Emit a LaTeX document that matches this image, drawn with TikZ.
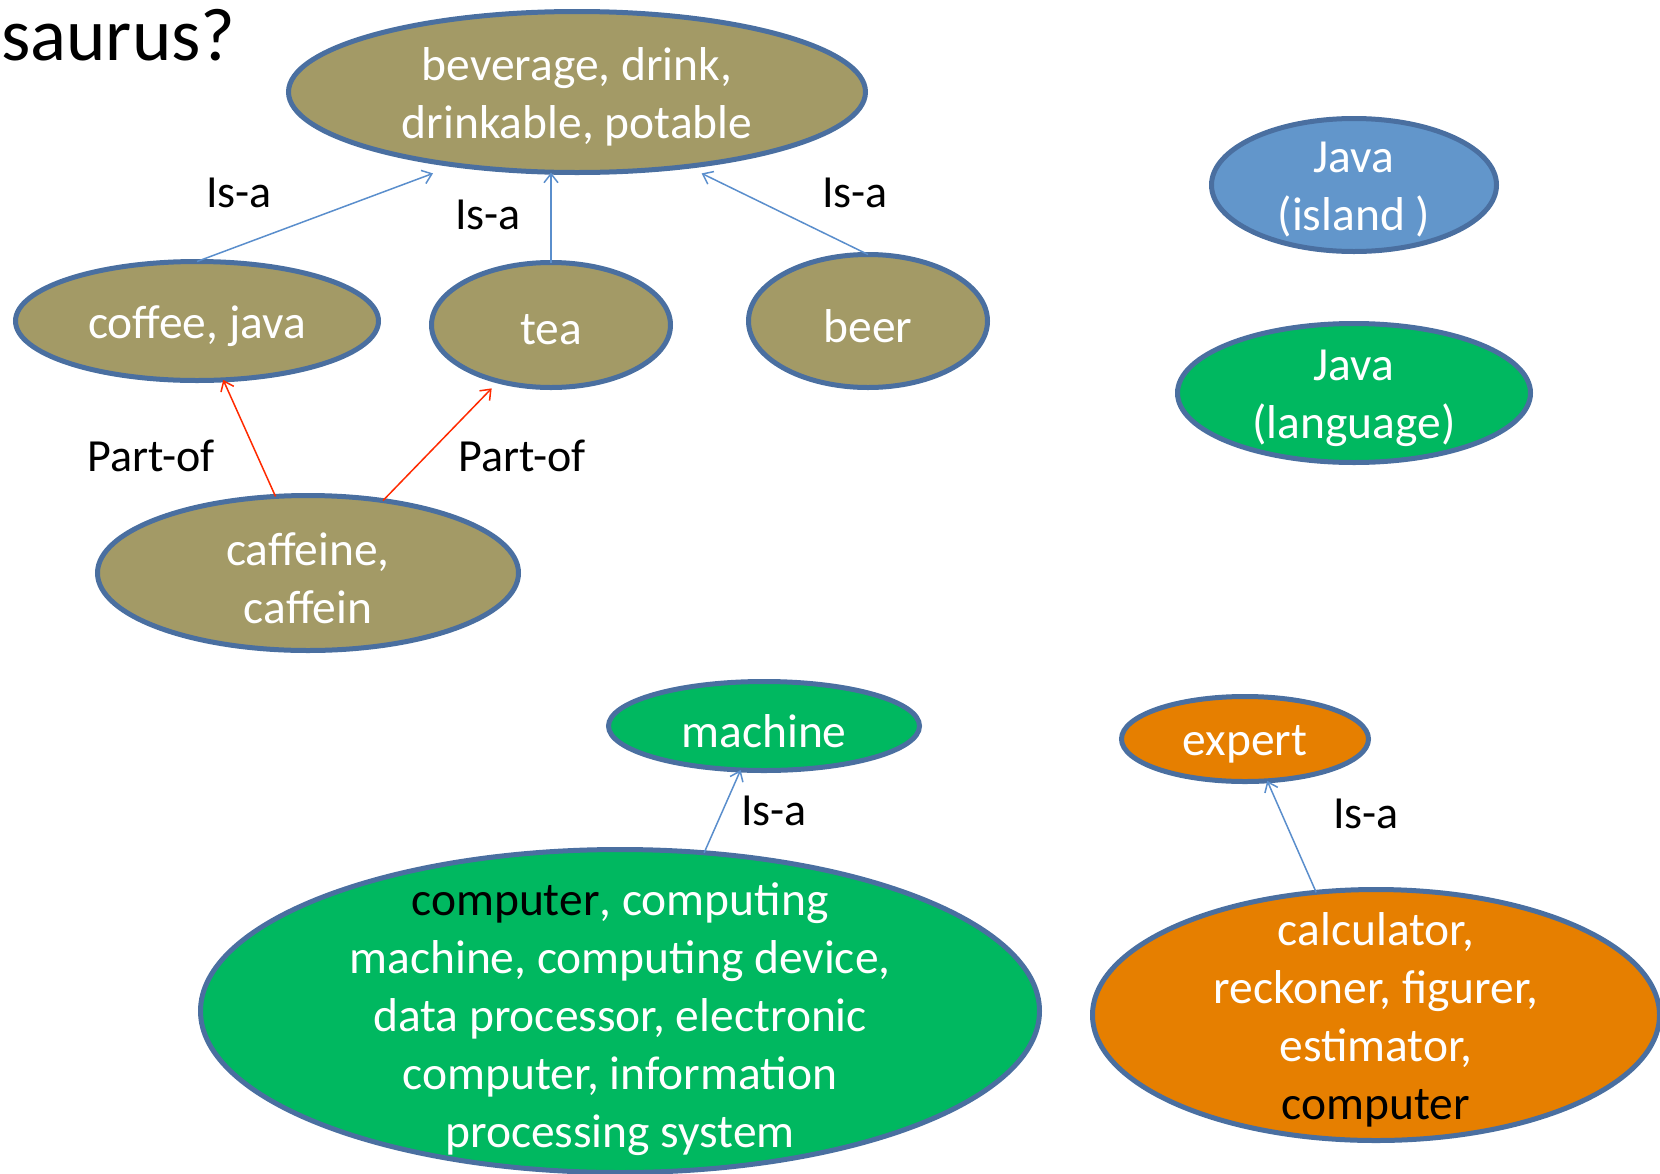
\documentclass[tikz,border=0pt]{standalone}
\usepackage{fontspec}
\setmainfont{Carlito}
\usetikzlibrary{arrows.meta,shapes.geometric}
\definecolor{olivefill}{HTML}{A39A66}
\definecolor{edgeblue}{HTML}{4A6FA0}
\definecolor{islandblue}{HTML}{6296CB}
\definecolor{greenfill}{HTML}{00B860}
\definecolor{orangefill}{HTML}{E67F00}
\definecolor{isablue}{HTML}{5A8ECC}
\definecolor{partred}{HTML}{FF2A00}
\begin{document}
\begin{tikzpicture}[x=1pt,y=-1pt,
  ell/.style={ellipse, draw=edgeblue, line width=5pt, fill=#1, inner sep=0pt, outer sep=0pt},
  txt/.style={text=white, align=center, font=\fontsize{47.5}{58}\selectfont, inner sep=0pt, yshift=-5pt},
  lab/.style={text=black, font=\fontsize{46}{56}\selectfont, inner sep=0pt},
  isa/.style={draw=isablue, line width=1.5pt, -{Straight Barb[length=9pt,width=14pt]}},
  partof/.style={draw=partred, line width=1.5pt, -{Straight Barb[length=9pt,width=14pt]}},
]
\useasboundingbox (0,0) rectangle (1660,1173);

\node[anchor=base west, font=\fontsize{75}{80}\selectfont, inner sep=0pt] (title) at (1,60) {saurus?};

% ellipses
\node[ell=olivefill, minimum width=577pt, minimum height=161pt] (bev) at (577,92) {};
\node[txt] (bevT) at (bev.center) {beverage, drink,\\drinkable, potable};

\node[ell=olivefill, minimum width=363pt, minimum height=119pt] (coffee) at (197,321) {};
\node[txt] (coffeeT) at (coffee.center) {coffee, java};

\node[ell=olivefill, minimum width=239pt, minimum height=125pt] (tea) at (551,325) {};
\node[txt] (teaT) at (tea.center) {tea};

\node[ell=olivefill, minimum width=239pt, minimum height=133pt] (beer) at (868,321) {};
\node[txt] (beerT) at (beer.center) {beer};

\node[ell=olivefill, minimum width=421pt, minimum height=155pt] (caff) at (308,573) {};
\node[txt] (caffT) at (caff.center) {caffeine,\\caffein};

\node[ell=islandblue, minimum width=285pt, minimum height=133pt] (island) at (1354,185) {};
\node[txt] (islandT) at (island.center) {Java\\(island )};

\node[ell=greenfill, minimum width=353pt, minimum height=139pt] (lang) at (1354,393) {};
\node[txt] (langT) at (lang.center) {Java\\(language)};

\node[ell=greenfill, minimum width=311pt, minimum height=89pt] (mach) at (764,726) {};
\node[txt] (machT) at (mach.center) {machine};

\node[ell=greenfill, minimum width=839pt, minimum height=323pt] (comp) at (620,1011) {};
\node[txt] (compT) at (620,1014) {{\color{black}computer}, computing\\machine, computing device,\\data processor, electronic\\computer, information\\processing system};

\node[ell=orangefill, minimum width=247pt, minimum height=85pt] (expert) at (1245,739) {};
\node[txt] (expertT) at (expert.center) {expert};

\node[ell=orangefill, minimum width=567pt, minimum height=251pt] (calc) at (1376,1015) {};
\node[txt] (calcT) at (calc.center) {calculator,\\reckoner, figurer,\\estimator,\\{\color{black}computer}};

% connectors
\draw[isa, shorten >=24pt] (coffee.north) -- (bev.211);
\draw[isa] (tea.north) -- (tea.north |- bev.south);
\draw[isa, shorten >=16pt] (beer.north) -- (bev.326);
\draw[partof] (caff.113) -- (coffee.294);
\draw[partof, shorten >=10pt] (caff.44) -- (tea.227);
\draw[isa] (comp.62) -- (mach.242);
\draw[isa] (calc.116) -- (expert.298);

% labels
\node[lab] (l1) at (239,193) {Is-a};
\node[lab] (l2) at (488,215) {Is-a};
\node[lab] (l3) at (855,193) {Is-a};
\node[lab] (l4) at (151,456) {Part-of};
\node[lab] (l5) at (522,456) {Part-of};
\node[lab] (l6) at (774,811) {Is-a};
\node[lab] (l7) at (1366,814) {Is-a};
\end{tikzpicture}
\end{document}
